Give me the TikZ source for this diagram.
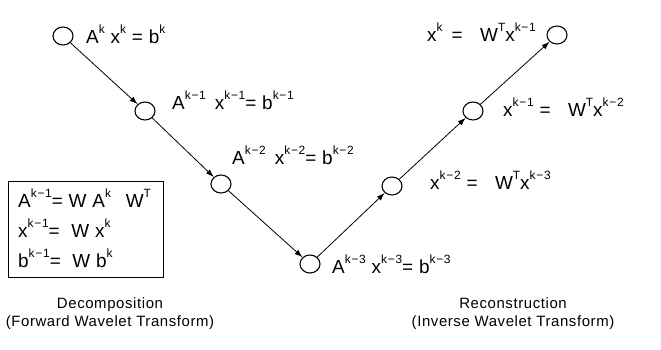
\documentclass[tikz,border=0pt]{standalone}
\usepackage{fontspec}
\setmainfont{Liberation Sans}[LetterSpace=4]
\newfontfamily\eqfont{Liberation Sans}[LetterSpace=3]
\newfontfamily\supfont{Liberation Sans}[LetterSpace=6]
\usetikzlibrary{arrows.meta,shapes.geometric}
\newcommand\sps[1]{\raisebox{0.52em}{\supfont\fontsize{12}{12}\selectfont #1}}
\begin{document}
\begin{tikzpicture}[x=1bp,y=-1bp,
  ring/.style={draw,line width=1.1bp,ellipse,minimum width=20bp,minimum height=18bp,inner sep=0pt},
  link/.style={line width=0.8bp,-{Latex[length=8bp,width=5.5bp]}},
  eqn/.style={font=\eqfont\fontsize{19}{21}\selectfont,inner sep=0pt,anchor=base west},
  caption/.style={font=\fontsize{15}{18}\selectfont,inner sep=0pt,align=center}]
\useasboundingbox (0,0) rectangle (661,349);
\node[ring] (c1) at (63,36) {};
\node[ring] (c2) at (145,111) {};
\node[ring] (c3) at (221,184) {};
\node[ring] (c4) at (310,264) {};
\node[ring] (c5) at (392,186) {};
\node[ring] (c6) at (473,111) {};
\node[ring] (c7) at (557,35) {};
\draw[link] (c1) -- (c2);
\draw[link] (c2) -- (c3);
\draw[link] (c3) -- (c4);
\draw[link] (c4) -- (c5);
\draw[link] (c5) -- (c6);
\draw[link] (c6) -- (c7);
\node[eqn] (l1) at (86,43) {A\sps{k} x\sps{k} = b\sps{k}};
\node[eqn] (l2) at (172,109) {A\sps{k−1} \,x\sps{k−1}= b\sps{k−1}};
\node[eqn] (l3) at (232,164) {A\sps{k−2} \,x\sps{k−2}= b\sps{k−2}};
\node[eqn] (l4) at (332,273) {A\sps{k−3} x\sps{k−3}= b\sps{k−3}};
\node[eqn] (r1) at (427,41) {x\sps{k} \,= \ \ W\sps{T}x\sps{k−1}};
\node[eqn] (r2) at (503,116) {x\sps{k−1} = \ \ W\sps{T}x\sps{k−2}};
\node[eqn] (r3) at (430,189) {x\sps{k−2} = \ \ W\sps{T}x\sps{k−3}};
\node[draw,line width=0.8bp,anchor=north west,minimum width=155bp,minimum height=96bp,inner sep=0pt] (box) at (8,181) {};
\node[eqn] (b1) at (18,207) {A\sps{k−1}= W A\sps{k} \ \,W\sps{T}};
\node[eqn] (b2) at (18,237) {x\sps{k−1}= \ W x\sps{k}};
\node[eqn] (b3) at (18,267) {b\sps{k−1}= \ W b\sps{k}};
\node[caption] (dec) at (110,314) {Decomposition\\(Forward Wavelet Transform)};
\node[caption] (rec) at (513,314) {Reconstruction\\(Inverse Wavelet Transform)};
\end{tikzpicture}
\end{document}
